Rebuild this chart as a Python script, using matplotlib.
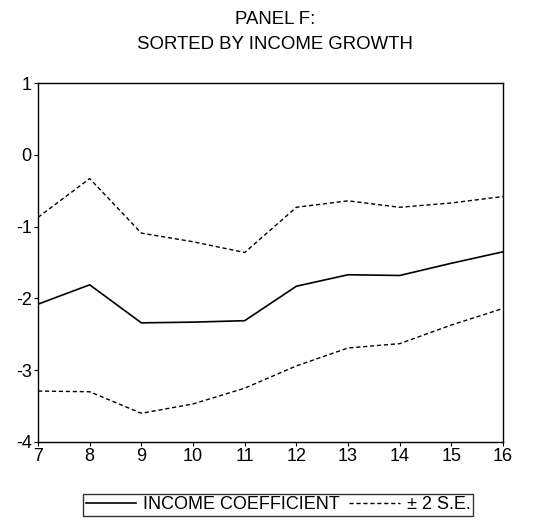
import matplotlib.pyplot as plt
import numpy as np

plt.rcParams['font.family'] = ['Liberation Sans', 'DejaVu Sans']

# sorted groups by income growth
groups = [7, 8, 9, 10, 11, 12, 13, 14, 15, 16]
coef = [-2.08, -1.81, -2.34, -2.33, -2.31, -1.83, -1.67, -1.68, -1.51, -1.35]
upper = [-0.87, -0.33, -1.09, -1.21, -1.36, -0.73, -0.64, -0.73, -0.67, -0.58]
lower = [-3.29, -3.30, -3.60, -3.47, -3.25, -2.94, -2.69, -2.63, -2.37, -2.14]

fig = plt.figure(figsize=(5.34, 5.26), dpi=100)
ax = fig.add_axes([0.0712, 0.1597, 0.8708, 0.6823])

l1, = ax.plot(groups, coef, color='black', lw=1.2, linestyle='-')
l2, = ax.plot(groups, upper, color='black', lw=1.0, linestyle=(0, (3, 2)))
ax.plot(groups, lower, color='black', lw=1.0, linestyle=(0, (3, 2)))

ax.set_xlim(7, 16)
ax.set_ylim(-4, 1)
ax.set_xticks(groups)
ax.set_yticks([-4, -3, -2, -1, 0, 1])
ax.set_yticklabels(['-4', '-3', '-2', '-1', '0', '1'])
ax.tick_params(axis='both', labelsize=13, length=3, width=0.8, color='black')
ax.tick_params(axis='x', pad=1.5)
ax.tick_params(axis='y', pad=1.5)
for s in ax.spines.values():
    s.set_linewidth(1.0)

fig.text(0.515, 0.962, "PANEL F:", ha='center', va='center', fontsize=13.4)
fig.text(0.515, 0.915, "SORTED BY INCOME GROWTH", ha='center', va='center', fontsize=13.4)

leg = fig.legend([l1, l2], ["INCOME COEFFICIENT", "± 2 S.E."], loc='center',
                 bbox_to_anchor=(0.521, 0.040), ncol=2, fontsize=13,
                 frameon=True, fancybox=False, edgecolor='black',
                 handlelength=2.8, handletextpad=0.4, columnspacing=0.5,
                 borderpad=0.15, borderaxespad=0)
leg.get_frame().set_linewidth(1.0)

fig.savefig("out.png", dpi=100)
